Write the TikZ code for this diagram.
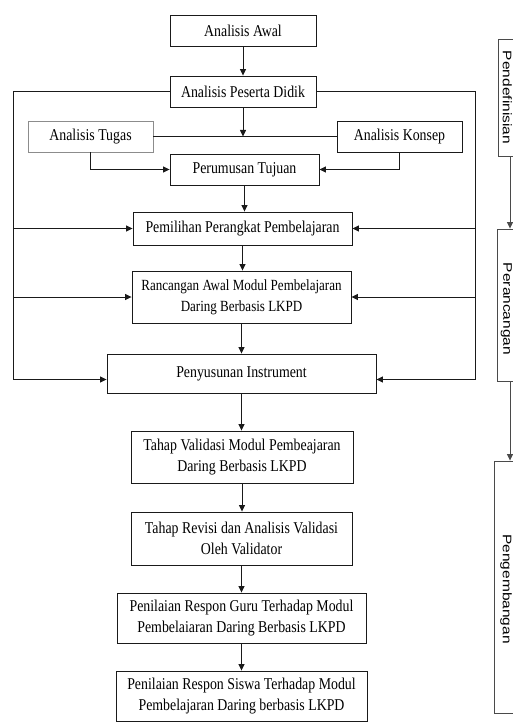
\documentclass[tikz,border=0pt]{standalone}
\usepackage{fontspec}
\setmainfont{Liberation Serif}[FakeStretch=0.84]
\newfontfamily\sidefont{Liberation Sans}
\usetikzlibrary{arrows.meta}
\definecolor{ink}{HTML}{1A1A1A}
\definecolor{ash}{HTML}{4A4A4A}
\definecolor{pale}{HTML}{8C8C8C}

\begin{document}
\begin{tikzpicture}[x=1pt,y=-1pt,
        box/.style={draw=ink,line width=0.9pt,fill=white,align=center,inner sep=1pt,
          font=\fontsize{16.5}{21}\selectfont},
        sbox/.style={draw=ash,line width=0.9pt,fill=white,inner sep=0pt},
        stxt/.style={rotate=-90,anchor=north,inner sep=0pt,font=\sidefont\fontsize{15.5}{17}\selectfont},
        ln/.style={ink,line width=0.8pt},
        arr/.style={ink,line width=0.8pt,-{Triangle[length=6.5pt,width=6pt]}},
        sarr/.style={ash,line width=0.8pt,-{Triangle[length=6.5pt,width=6pt]}}]
        \useasboundingbox (0,0) rectangle (513,722);
        % main flow
        \node[box,minimum width=146pt,minimum height=31pt] (aw) at (243,30.5) {Analisis Awal};
        \node[box,minimum width=146pt,minimum height=31pt] (apd) at (243,91.5) {Analisis Peserta Didik};
        \node[box,draw=pale,minimum width=125pt,minimum height=31pt] (at) at (90.5,136.5) {Analisis Tugas};
        \node[box,minimum width=125pt,minimum height=31pt] (ak) at (399.5,136.5) {Analisis Konsep};
        \node[box,minimum width=149pt,minimum height=31pt] (pt) at (244.5,169.5) {Perumusan Tujuan};
        \node[box,minimum width=219pt,minimum height=33pt] (ppp) at (242.5,228.5) {Pemilihan Perangkat Pembelajaran};
        \node[box,minimum width=219pt,minimum height=52pt,font=\fontsize{15.5}{21}\selectfont] (rc) at (241.5,297) {Rancangan Awal Modul Pembelajaran\\Daring Berbasis LKPD};
        \node[box,minimum width=269pt,minimum height=39pt] (pi) at (241.5,373.5) {Penyusunan Instrument};
        \node[box,minimum width=222pt,minimum height=52pt] (tv) at (242,457) {Tahap Validasi Modul Pembeajaran\\Daring Berbasis LKPD};
        \node[box,minimum width=221pt,minimum height=53pt] (tr) at (241.5,538.5) {Tahap Revisi dan Analisis Validasi\\Oleh Validator};
        \node[box,minimum width=249pt,minimum height=50pt] (pg) at (241.5,618) {Penilaian Respon Guru Terhadap Modul\\Pembelaiaran Daring Berbasis LKPD};
        \node[box,minimum width=251pt,minimum height=50pt] (ps) at (241.5,696) {Penilaian Respon Siswa Terhadap Modul\\Pembelajaran Daring berbasis LKPD};
        % side stages
        \node[sbox,minimum width=24pt,minimum height=117pt] (def) at (510,97.5) {};
        \node[sbox,minimum width=26pt,minimum height=152pt] (ran) at (510,305) {};
        \node[sbox,minimum width=32pt,minimum height=252pt] (dev) at (510,587) {};
        \node[stxt] (tdef) at (512,97.5) {\scalebox{1}[0.8]{Pendefinisian}};
        \node[stxt] (tran) at (512,309) {\scalebox{1}[0.8]{Perancangan}};
        \node[stxt] (tdev) at (512,589) {\scalebox{1}[0.8]{Pengembangan}};
        \coordinate (l) at (13,0);
        \coordinate (r) at (475,0);
        \coordinate (m) at (apd.south |- at.east);
        \draw[arr] (aw) -- (apd);
        \draw[arr] (apd) -- (m);
        \draw[ln] (at.east) -- (ak.west);
        \draw[arr] (at.south) |- (pt.west);
        \draw[arr] (ak.south) |- (pt.east);
        \foreach \u/\w in {pt/ppp,ppp/rc,rc/pi,pi/tv,tv/tr,tr/pg,pg/ps}
          \draw[arr] (\u.south) -- (\u.south |- \w.north);
        % loops back on both sides
        \draw[arr] (apd.west) -| ([yshift=-6pt]pi.west -| l) -- ([yshift=-6pt]pi.west);
        \draw[arr] (apd.east) -| ([yshift=-6pt]pi.east -| r) -- ([yshift=-6pt]pi.east);
        \foreach \w in {ppp,rc}{
          \draw[arr] (l |- \w.west) -- (\w.west);
          \draw[arr] (r |- \w.east) -- (\w.east);
        }
        \draw[sarr] (def) -- (ran);
        \draw[sarr] (ran) -- (dev);
      \end{tikzpicture}
\end{document}
